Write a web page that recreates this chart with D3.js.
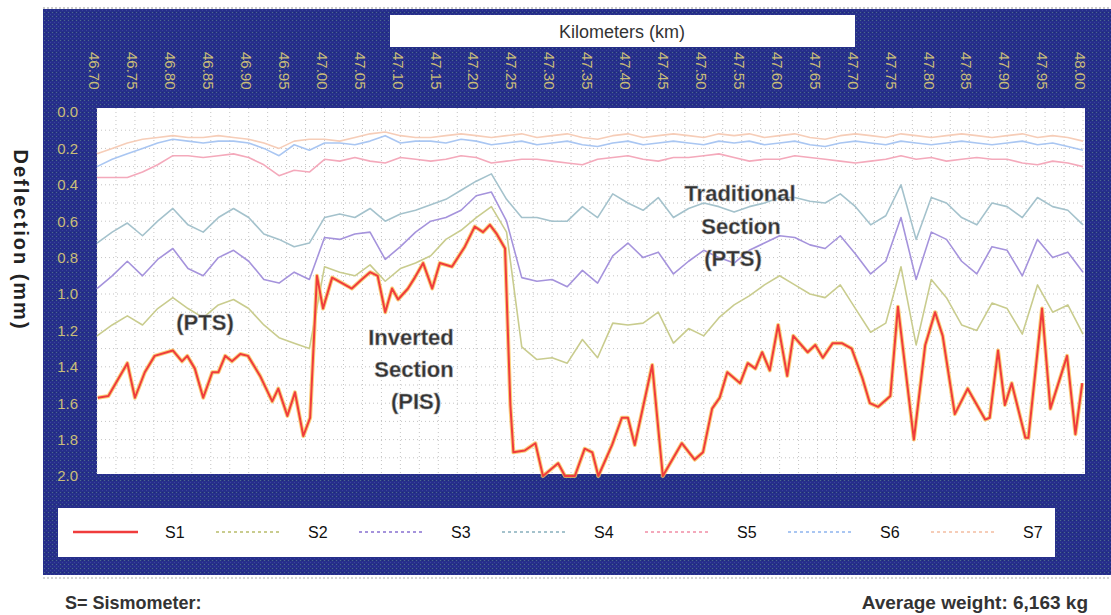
<!DOCTYPE html>
<html>
<head>
<meta charset="utf-8">
<script src="https://cdn.jsdelivr.net/npm/d3@7"></script>
<style>
  body { margin: 0; background: #fff; }
  text { font-family: "Liberation Sans", Arial, sans-serif; }
</style>
</head>
<body>
<div id="root"></div>
<script>
// ---- data ----
const tickLabels = ["46.70","46.75","46.80","46.85","46.90","46.95","47.00","47.05","47.10","47.15","47.20","47.25","47.30","47.35","47.40","47.45","47.50","47.55","47.60","47.65","47.70","47.75","47.80","47.85","47.90","47.95","48.00"];
const yTicks = [0, 0.2, 0.4, 0.6, 0.8, 1.0, 1.2, 1.4, 1.6, 1.8, 2.0];
const seriesNames = ["S1", "S2", "S3", "S4", "S5", "S6", "S7"];

// S1 vertices (km, mm)
const kmS1 = [46.701,46.715,46.740,46.750,46.763,46.776,46.800,46.812,46.819,46.829,46.840,46.852,46.860,46.869,46.878,46.889,46.899,46.915,46.931,46.939,46.951,46.961,46.972,46.981,46.990,46.998,47.010,47.036,47.049,47.060,47.070,47.080,47.089,47.097,47.110,47.119,47.130,47.142,47.152,47.168,47.185,47.198,47.209,47.218,47.227,47.238,47.245,47.249,47.264,47.278,47.288,47.308,47.317,47.330,47.343,47.353,47.361,47.379,47.392,47.400,47.409,47.432,47.446,47.471,47.488,47.499,47.511,47.521,47.531,47.548,47.558,47.568,47.577,47.587,47.598,47.610,47.618,47.637,47.647,47.657,47.670,47.682,47.695,47.709,47.719,47.730,47.746,47.756,47.777,47.792,47.805,47.815,47.831,47.848,47.871,47.877,47.888,47.897,47.906,47.924,47.928,47.946,47.957,47.979,47.990,47.999];
const s1 = [1.57,1.56,1.38,1.57,1.43,1.34,1.31,1.37,1.34,1.41,1.57,1.43,1.43,1.34,1.37,1.33,1.34,1.45,1.59,1.52,1.67,1.54,1.78,1.68,0.90,1.08,0.91,0.97,0.92,0.88,0.90,1.10,0.97,1.03,0.97,0.91,0.83,0.97,0.83,0.85,0.74,0.63,0.66,0.62,0.67,0.75,1.61,1.87,1.86,1.82,2.0,1.93,2.0,2.0,1.85,1.87,2.0,1.83,1.68,1.68,1.83,1.39,2.0,1.82,1.91,1.87,1.63,1.57,1.43,1.49,1.38,1.41,1.32,1.42,1.17,1.45,1.23,1.32,1.28,1.35,1.27,1.27,1.30,1.46,1.60,1.62,1.56,1.07,1.80,1.28,1.10,1.23,1.66,1.52,1.69,1.68,1.31,1.61,1.49,1.79,1.79,1.08,1.63,1.34,1.77,1.49];

// S2..S7 on a 0.02 km grid from 46.70 to 48.00
const kmGrid = d3.range(66).map((i) => +(46.70 + i * 0.02).toFixed(2));
const s2 = [1.23,1.17,1.12,1.17,1.08,1.02,1.08,1.13,1.06,1.03,1.08,1.17,1.24,1.27,1.30,0.85,0.88,0.90,0.84,0.93,0.86,0.83,0.79,0.70,0.65,0.58,0.52,0.66,1.29,1.36,1.35,1.38,1.25,1.35,1.16,1.17,1.16,1.10,1.27,1.19,1.23,1.13,1.06,1.01,0.95,0.90,0.95,1.00,1.02,0.95,1.08,1.21,1.16,0.85,1.28,0.92,1.02,1.17,1.20,1.05,1.08,1.22,0.95,1.10,1.06,1.22];
const s3 = [0.97,0.90,0.82,0.90,0.81,0.75,0.86,0.90,0.80,0.76,0.82,0.92,0.94,0.88,0.92,0.69,0.70,0.67,0.66,0.81,0.74,0.66,0.60,0.58,0.54,0.46,0.44,0.60,0.91,0.93,0.92,0.96,0.87,0.94,0.79,0.72,0.80,0.77,0.89,0.82,0.76,0.80,0.83,0.76,0.72,0.68,0.69,0.73,0.75,0.68,0.78,0.89,0.82,0.58,0.92,0.66,0.70,0.82,0.89,0.74,0.76,0.90,0.70,0.80,0.77,0.88];
const s4 = [0.72,0.66,0.61,0.68,0.60,0.53,0.62,0.66,0.58,0.53,0.58,0.67,0.70,0.74,0.72,0.58,0.56,0.58,0.53,0.60,0.56,0.54,0.51,0.48,0.43,0.38,0.34,0.48,0.58,0.58,0.60,0.60,0.52,0.58,0.45,0.50,0.54,0.47,0.58,0.53,0.50,0.52,0.55,0.52,0.50,0.47,0.47,0.49,0.50,0.45,0.52,0.62,0.57,0.40,0.70,0.47,0.50,0.58,0.62,0.50,0.52,0.58,0.47,0.52,0.54,0.62];
const s5 = [0.36,0.36,0.36,0.33,0.29,0.24,0.24,0.25,0.24,0.23,0.25,0.29,0.35,0.32,0.33,0.26,0.27,0.25,0.27,0.28,0.25,0.26,0.27,0.26,0.24,0.25,0.28,0.27,0.26,0.26,0.27,0.28,0.29,0.26,0.25,0.24,0.26,0.27,0.25,0.25,0.24,0.23,0.25,0.27,0.26,0.26,0.24,0.25,0.26,0.27,0.28,0.27,0.26,0.24,0.26,0.25,0.27,0.26,0.25,0.26,0.26,0.28,0.29,0.27,0.28,0.30];
const s6 = [0.30,0.26,0.23,0.20,0.17,0.15,0.16,0.17,0.16,0.16,0.17,0.20,0.24,0.18,0.21,0.17,0.17,0.18,0.16,0.13,0.17,0.16,0.16,0.17,0.15,0.16,0.18,0.17,0.16,0.18,0.17,0.16,0.18,0.19,0.17,0.16,0.18,0.17,0.16,0.17,0.18,0.16,0.17,0.16,0.18,0.17,0.16,0.18,0.19,0.17,0.16,0.17,0.18,0.16,0.17,0.18,0.17,0.16,0.17,0.18,0.17,0.16,0.18,0.17,0.19,0.21];
const s7 = [0.23,0.20,0.17,0.15,0.14,0.13,0.14,0.14,0.13,0.14,0.15,0.17,0.20,0.16,0.15,0.15,0.16,0.14,0.12,0.11,0.13,0.14,0.14,0.13,0.12,0.13,0.14,0.13,0.12,0.14,0.13,0.12,0.14,0.15,0.13,0.12,0.14,0.13,0.12,0.13,0.14,0.12,0.13,0.12,0.14,0.13,0.12,0.14,0.15,0.13,0.12,0.13,0.14,0.12,0.13,0.14,0.13,0.12,0.13,0.14,0.13,0.12,0.14,0.13,0.14,0.16];

const width = 1111,
  height = 615;

const svg = d3.select("#root").append("svg")
  .attr("width", width)
  .attr("height", height)
  .attr("viewBox", [0, 0, width, height]);

// dithered navy texture for the outer panel
const defs = svg.append("defs");
const pat = defs.append("pattern")
  .attr("id", "navy")
  .attr("width", 4).attr("height", 4)
  .attr("patternUnits", "userSpaceOnUse");
pat.append("rect").attr("width", 4).attr("height", 4).attr("fill", "#262f8a");
pat.append("rect").attr("x", 0).attr("y", 0).attr("width", 1).attr("height", 1).attr("fill", "#4d6b8a");
pat.append("rect").attr("x", 2).attr("y", 2).attr("width", 1).attr("height", 1).attr("fill", "#3a3fa0");
pat.append("rect").attr("x", 2).attr("y", 0).attr("width", 1).attr("height", 1).attr("fill", "#1e2a78");

svg.append("line")
  .attr("x1", 43).attr("x2", width).attr("y1", 8).attr("y2", 8)
  .attr("stroke", "#999").attr("stroke-dasharray", "2,2");
svg.append("rect")
  .attr("x", 43).attr("y", 9).attr("width", width - 43).attr("height", 566)
  .attr("fill", "url(#navy)");
svg.append("line")
  .attr("x1", 43).attr("x2", width).attr("y1", 578).attr("y2", 578)
  .attr("stroke", "#aaa").attr("stroke-dasharray", "2,2");

// title box
svg.append("rect")
  .attr("x", 390).attr("y", 15).attr("width", 465).attr("height", 32)
  .attr("fill", "#fff");
svg.append("text")
  .attr("x", 622).attr("y", 38)
  .attr("text-anchor", "middle")
  .attr("font-size", 18)
  .attr("fill", "#333")
  .text("Kilometers (km)");

// scales
const x = d3.scaleLinear().domain([46.70, 48.00]).range([97, 1083]);
const y = d3.scaleLinear().domain([0, 2]).range([112, 476]);

// plot area
const plot = { x0: 97, x1: 1085, y0: 108, y1: 474 };
svg.append("rect")
  .attr("x", plot.x0).attr("y", plot.y0)
  .attr("width", plot.x1 - plot.x0).attr("height", plot.y1 - plot.y0)
  .attr("fill", "#fff");

const grid = svg.append("g").attr("stroke", "#c4c4c4").attr("stroke-dasharray", "1,3");
grid.selectAll(".v")
  .data(d3.range(0, 53).map((i) => 46.70 + i * 0.025))
  .join("line")
  .attr("x1", (d) => x(d)).attr("x2", (d) => x(d))
  .attr("y1", plot.y0).attr("y2", plot.y1);
grid.selectAll(".h")
  .data(d3.range(1, 20).map((i) => i * 0.1))
  .join("line")
  .attr("x1", plot.x0).attr("x2", plot.x1)
  .attr("y1", (d) => y(d)).attr("y2", (d) => y(d));

// axes
const kmTicks = tickLabels.map((t) => +t);
const xAxis = d3.axisTop(x).tickValues(kmTicks).tickFormat((d, i) => tickLabels[i]).tickSize(0);
const gx = svg.append("g").attr("transform", "translate(-3, 52)").call(xAxis);
gx.select(".domain").remove();
gx.selectAll(".tick text")
  .attr("transform", "rotate(90)")
  .attr("x", 0).attr("y", 0).attr("dy", "0.35em")
  .attr("text-anchor", "start")
  .attr("font-size", 15)
  .attr("fill", "#c9bd78");

const yAxis = d3.axisLeft(y).tickValues(yTicks).tickFormat(d3.format(".1f")).tickSize(0);
const gy = svg.append("g").attr("transform", "translate(78, 0)").call(yAxis);
gy.select(".domain").remove();
gy.selectAll(".tick text")
  .attr("x", 0)
  .attr("font-size", 15)
  .attr("fill", "#c9bd78");

svg.append("text")
  .attr("transform", "translate(14, 240) rotate(90)")
  .attr("text-anchor", "middle")
  .attr("font-size", 20)
  .attr("font-weight", "bold")
  .attr("letter-spacing", 2)
  .attr("fill", "#222")
  .text("Deflection (mm)");

// series
const colors = ["#f03c3c", "#c9cc8e", "#a593dc", "#a4c2cc", "#f4a9bb", "#a9c6f2", "#f6cdb8"];
const faint = [
  { name: "S7", values: s7, color: colors[6] },
  { name: "S6", values: s6, color: colors[5] },
  { name: "S5", values: s5, color: colors[4] },
  { name: "S4", values: s4, color: colors[3] },
  { name: "S3", values: s3, color: colors[2] },
  { name: "S2", values: s2, color: colors[1] },
];

const line = d3.line()
  .x((d) => x(d[0]))
  .y((d) => y(Math.min(d[1], 2)));

const lines = svg.append("g").attr("fill", "none").attr("stroke-linejoin", "round");
lines.selectAll(".faint")
  .data(faint)
  .join("path")
  .attr("class", "faint")
  .attr("d", (s) => line(kmGrid.map((k, i) => [k, s.values[i]])))
  .attr("stroke", (s) => s.color)
  .attr("stroke-width", 1.6);

const s1Points = kmS1.map((k, i) => [k, s1[i]]);
lines.append("path")
  .attr("d", line(s1Points))
  .attr("stroke", "#f7c35a")
  .attr("stroke-opacity", 0.8)
  .attr("stroke-width", 4);
lines.append("path")
  .attr("d", line(s1Points))
  .attr("stroke", colors[0])
  .attr("stroke-width", 2);

// annotations
const notes = [
  { t: "(PTS)", x: 205, y: 330 },
  { t: "Inverted", x: 411, y: 345 },
  { t: "Section", x: 414, y: 377 },
  { t: "(PIS)", x: 416, y: 409 },
  { t: "Traditional", x: 740, y: 201 },
  { t: "Section", x: 741, y: 234 },
  { t: "(PTS)", x: 733, y: 266 },
];
svg.append("g")
  .selectAll("text")
  .data(notes)
  .join("text")
  .attr("x", (d) => d.x).attr("y", (d) => d.y)
  .attr("text-anchor", "middle")
  .attr("font-size", 22)
  .attr("font-weight", "bold")
  .attr("fill", "#333")
  .attr("stroke", "#aaa")
  .attr("stroke-width", 0.5)
  .text((d) => d.t);

// legend
svg.append("rect")
  .attr("x", 58).attr("y", 508).attr("width", 997).attr("height", 49)
  .attr("fill", "#fff");
const legend = svg.append("g")
  .selectAll("g")
  .data(seriesNames)
  .join("g")
  .attr("transform", (d, i) => `translate(${73 + i * 143}, 532)`);
legend.append("line")
  .attr("x1", 0).attr("x2", 65)
  .attr("stroke", (d, i) => colors[i])
  .attr("stroke-width", (d, i) => (i === 0 ? 2.5 : 2))
  .attr("stroke-dasharray", (d, i) => (i === 0 ? null : "3,3"));
legend.append("text")
  .attr("x", 92).attr("y", 6)
  .attr("font-size", 16)
  .attr("fill", "#111")
  .text((d) => d);

// footer
svg.append("text")
  .attr("x", 65).attr("y", 609)
  .attr("font-size", 18).attr("font-weight", "bold").attr("fill", "#333")
  .text("S= Sismometer:");
svg.append("text")
  .attr("x", 1088).attr("y", 609)
  .attr("text-anchor", "end")
  .attr("font-size", 19).attr("font-weight", "bold").attr("fill", "#333")
  .text("Average weight: 6,163 kg");
</script>
</body>
</html>
